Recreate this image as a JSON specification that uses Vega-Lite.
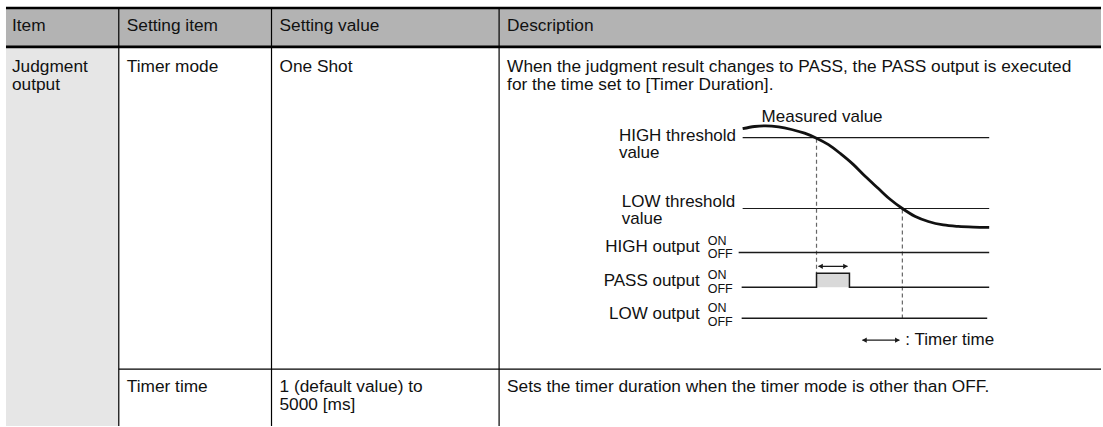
{
  "$schema": "https://vega.github.io/schema/vega-lite/v6.json",
  "width": 1103,
  "height": 427,
  "padding": 0,
  "autosize": {"type": "fit", "contains": "padding"},
  "background": "white",
  "config": {"view": {"stroke": null}},
  "datasets": {
    "cells": [
      {"x": 6, "x2": 1103, "y": 8, "y2": 47, "kind": "header"},
      {"x": 6, "x2": 119, "y": 47, "y2": 427, "kind": "itemcol"},
      {"x": 818, "x2": 851, "y": 274, "y2": 288, "kind": "pulse"}
    ],
    "thick": [
      {"x": 6, "x2": 1103, "y": 8, "y2": 8},
      {"x": 6, "x2": 1103, "y": 47, "y2": 47}
    ],
    "thin": [
      {"x": 119, "x2": 119, "y": 8, "y2": 427},
      {"x": 272, "x2": 272, "y": 8, "y2": 427},
      {"x": 500, "x2": 500, "y": 8, "y2": 427},
      {"x": 119, "x2": 1103, "y": 370, "y2": 370}
    ],
    "thresholds": [
      {"x": 744, "x2": 991, "y": 138, "y2": 138},
      {"x": 744, "x2": 991, "y": 209, "y2": 209}
    ],
    "dashes": [
      {"x": 818, "x2": 818, "y": 139, "y2": 274},
      {"x": 904, "x2": 904, "y": 210, "y2": 319}
    ],
    "curve": [
      {"i": 0, "x": 744, "y": 129},
      {"i": 1, "x": 756, "y": 126.8},
      {"i": 2, "x": 767, "y": 126.2},
      {"i": 3, "x": 780, "y": 127.2},
      {"i": 4, "x": 793, "y": 129.8},
      {"i": 5, "x": 806, "y": 133.5},
      {"i": 6, "x": 818, "y": 138.5},
      {"i": 7, "x": 830, "y": 145},
      {"i": 8, "x": 842, "y": 154},
      {"i": 9, "x": 855, "y": 165},
      {"i": 10, "x": 867, "y": 177},
      {"i": 11, "x": 880, "y": 189},
      {"i": 12, "x": 892, "y": 200},
      {"i": 13, "x": 904, "y": 209},
      {"i": 14, "x": 917, "y": 217},
      {"i": 15, "x": 930, "y": 222},
      {"i": 16, "x": 945, "y": 225.5},
      {"i": 17, "x": 960, "y": 227},
      {"i": 18, "x": 975, "y": 227.7},
      {"i": 19, "x": 991, "y": 228}
    ],
    "signals": [
      {"sig": "HIGH", "i": 0, "x": 740, "y": 253},
      {"sig": "HIGH", "i": 1, "x": 991, "y": 253},
      {"sig": "PASS", "i": 0, "x": 743, "y": 288},
      {"sig": "PASS", "i": 1, "x": 818, "y": 288},
      {"sig": "PASS", "i": 2, "x": 818, "y": 274},
      {"sig": "PASS", "i": 3, "x": 851, "y": 274},
      {"sig": "PASS", "i": 4, "x": 851, "y": 288},
      {"sig": "PASS", "i": 5, "x": 991, "y": 288},
      {"sig": "LOW", "i": 0, "x": 743, "y": 319},
      {"sig": "LOW", "i": 1, "x": 989, "y": 319}
    ],
    "arrowLines": [
      {"x": 820, "x2": 849, "y": 267, "y2": 267},
      {"x": 864, "x2": 901, "y": 341, "y2": 341}
    ],
    "arrowHeads": [
      {"x": 847, "y": 267, "dir": "right"},
      {"x": 822, "y": 267, "dir": "left"},
      {"x": 899, "y": 341, "dir": "right"},
      {"x": 866, "y": 341, "dir": "left"}
    ],
    "tableText": [
      {"x": 12, "y": 31, "text": "Item"},
      {"x": 127, "y": 31, "text": "Setting item"},
      {"x": 280, "y": 31, "text": "Setting value"},
      {"x": 508, "y": 31, "text": "Description"},
      {"x": 12, "y": 72, "text": "Judgment\noutput"},
      {"x": 127, "y": 72, "text": "Timer mode"},
      {"x": 280, "y": 72, "text": "One Shot"},
      {"x": 508, "y": 72, "text": "When the judgment result changes to PASS, the PASS output is executed\nfor the time set to [Timer Duration]."},
      {"x": 127, "y": 393, "text": "Timer time"},
      {"x": 280, "y": 393, "text": "1 (default value) to\n5000 [ms]"},
      {"x": 508, "y": 393, "text": "Sets the timer duration when the timer mode is other than OFF."}
    ],
    "diagLabels": [
      {"x": 763, "y": 122, "text": "Measured value"},
      {"x": 620, "y": 141, "text": "HIGH threshold\nvalue"},
      {"x": 623, "y": 207, "text": "LOW threshold\nvalue"},
      {"x": 907, "y": 346, "text": ": Timer time"}
    ],
    "outLabels": [
      {"x": 701, "y": 253, "text": "HIGH output"},
      {"x": 701, "y": 287, "text": "PASS output"},
      {"x": 701, "y": 320, "text": "LOW output"}
    ],
    "onoff": [
      {"x": 709, "y": 246, "text": "ON"},
      {"x": 709, "y": 259, "text": "OFF"},
      {"x": 709, "y": 280, "text": "ON"},
      {"x": 709, "y": 294, "text": "OFF"},
      {"x": 709, "y": 313, "text": "ON"},
      {"x": 709, "y": 327, "text": "OFF"}
    ]
  },
  "layer": [
    {
      "data": {"name": "cells"},
      "mark": {"type": "rect"},
      "encoding": {
        "x": {"field": "x", "type": "quantitative", "scale": {"domain": [0, 1103], "nice": false, "zero": false}, "axis": null},
        "x2": {"field": "x2"},
        "y": {"field": "y", "type": "quantitative", "scale": {"domain": [0, 427], "nice": false, "zero": false, "reverse": true}, "axis": null},
        "y2": {"field": "y2"},
        "color": {"field": "kind", "type": "nominal", "scale": {"domain": ["header", "itemcol", "pulse"], "range": ["#b3b3b3", "#e6e6e6", "#d9d9d9"]}, "legend": null}
      }
    },
    {
      "data": {"name": "thin"},
      "mark": {"type": "rule", "color": "#000000", "strokeWidth": 1.2},
      "encoding": {
        "x": {"field": "x", "type": "quantitative"},
        "x2": {"field": "x2"},
        "y": {"field": "y", "type": "quantitative"},
        "y2": {"field": "y2"}
      }
    },
    {
      "data": {"name": "thick"},
      "mark": {"type": "rule", "color": "#000000", "strokeWidth": 2.6},
      "encoding": {
        "x": {"field": "x", "type": "quantitative"},
        "x2": {"field": "x2"},
        "y": {"field": "y", "type": "quantitative"},
        "y2": {"field": "y2"}
      }
    },
    {
      "data": {"name": "thresholds"},
      "mark": {"type": "rule", "color": "#1a1a1a", "strokeWidth": 1.2},
      "encoding": {
        "x": {"field": "x", "type": "quantitative"},
        "x2": {"field": "x2"},
        "y": {"field": "y", "type": "quantitative"},
        "y2": {"field": "y2"}
      }
    },
    {
      "data": {"name": "dashes"},
      "mark": {"type": "rule", "color": "#666666", "strokeWidth": 1.2, "strokeDash": [4, 3]},
      "encoding": {
        "x": {"field": "x", "type": "quantitative"},
        "x2": {"field": "x2"},
        "y": {"field": "y", "type": "quantitative"},
        "y2": {"field": "y2"}
      }
    },
    {
      "data": {"name": "curve"},
      "mark": {"type": "line", "color": "#111111", "strokeWidth": 2.8, "interpolate": "monotone"},
      "encoding": {
        "x": {"field": "x", "type": "quantitative"},
        "y": {"field": "y", "type": "quantitative"},
        "order": {"field": "i", "type": "quantitative"}
      }
    },
    {
      "data": {"name": "signals"},
      "mark": {"type": "line", "color": "#1a1a1a", "strokeWidth": 1.5},
      "encoding": {
        "x": {"field": "x", "type": "quantitative"},
        "y": {"field": "y", "type": "quantitative"},
        "detail": {"field": "sig", "type": "nominal"},
        "order": {"field": "i", "type": "quantitative"}
      }
    },
    {
      "data": {"name": "arrowLines"},
      "mark": {"type": "rule", "color": "#1a1a1a", "strokeWidth": 1.3},
      "encoding": {
        "x": {"field": "x", "type": "quantitative"},
        "x2": {"field": "x2"},
        "y": {"field": "y", "type": "quantitative"},
        "y2": {"field": "y2"}
      }
    },
    {
      "data": {"name": "arrowHeads"},
      "mark": {"type": "point", "filled": true, "color": "#1a1a1a", "size": 28, "opacity": 1},
      "encoding": {
        "x": {"field": "x", "type": "quantitative"},
        "y": {"field": "y", "type": "quantitative"},
        "shape": {"field": "dir", "type": "nominal", "scale": {"domain": ["left", "right"], "range": ["triangle-left", "triangle-right"]}, "legend": null}
      }
    },
    {
      "data": {"name": "tableText"},
      "mark": {"type": "text", "align": "left", "baseline": "alphabetic", "font": "Liberation Sans", "fontSize": 17.3, "lineHeight": 18, "lineBreak": "\n", "color": "#111111"},
      "encoding": {
        "x": {"field": "x", "type": "quantitative"},
        "y": {"field": "y", "type": "quantitative"},
        "text": {"field": "text", "type": "nominal"}
      }
    },
    {
      "data": {"name": "diagLabels"},
      "mark": {"type": "text", "align": "left", "baseline": "alphabetic", "font": "Liberation Sans", "fontSize": 17, "lineHeight": 17, "lineBreak": "\n", "color": "#111111"},
      "encoding": {
        "x": {"field": "x", "type": "quantitative"},
        "y": {"field": "y", "type": "quantitative"},
        "text": {"field": "text", "type": "nominal"}
      }
    },
    {
      "data": {"name": "outLabels"},
      "mark": {"type": "text", "align": "right", "baseline": "alphabetic", "font": "Liberation Sans", "fontSize": 17, "color": "#111111"},
      "encoding": {
        "x": {"field": "x", "type": "quantitative"},
        "y": {"field": "y", "type": "quantitative"},
        "text": {"field": "text", "type": "nominal"}
      }
    },
    {
      "data": {"name": "onoff"},
      "mark": {"type": "text", "align": "left", "baseline": "alphabetic", "font": "Liberation Sans", "fontSize": 12.5, "color": "#111111"},
      "encoding": {
        "x": {"field": "x", "type": "quantitative"},
        "y": {"field": "y", "type": "quantitative"},
        "text": {"field": "text", "type": "nominal"}
      }
    }
  ]
}
